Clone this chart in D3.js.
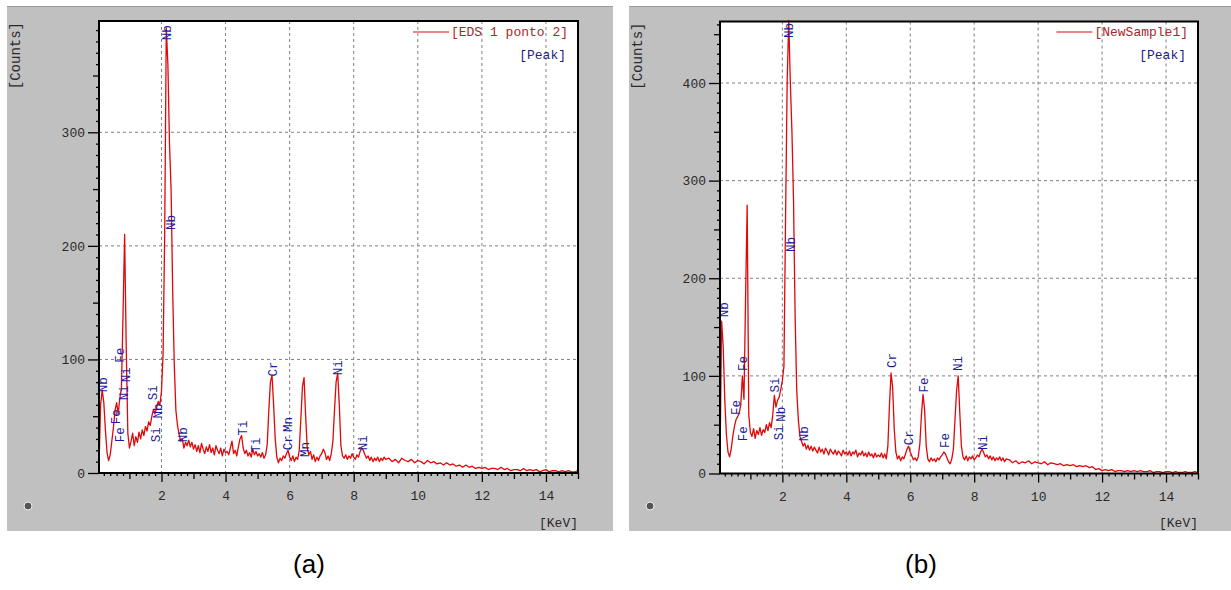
<!DOCTYPE html>
<html>
<head>
<meta charset="utf-8">
<script src="https://cdnjs.cloudflare.com/ajax/libs/d3/7.8.5/d3.min.js"></script>
<style>
body { margin: 0; background: #fff; }
svg { display: block; }
</style>
</head>
<body>
<svg width="1231" height="590"></svg>
<script>
// energy channels (keV), shared by both spectra
var energy = [
    0.05, 0.10, 0.15, 0.20, 0.25, 0.30, 0.35, 0.40, 0.45, 0.50, 0.55, 0.60, 0.65, 0.70, 0.75, 0.80, 0.85, 0.90, 0.95, 1.00,
    1.05, 1.10, 1.15, 1.20, 1.25, 1.30, 1.35, 1.40, 1.45, 1.50, 1.55, 1.60, 1.65, 1.70, 1.75, 1.80, 1.85, 1.90, 1.95, 2.00,
    2.05, 2.10, 2.15, 2.20, 2.25, 2.30, 2.35, 2.40, 2.45, 2.50, 2.55, 2.60, 2.65, 2.70, 2.75, 2.80, 2.85, 2.90, 2.95, 3.00,
    3.05, 3.10, 3.15, 3.20, 3.25, 3.30, 3.35, 3.40, 3.45, 3.50, 3.55, 3.60, 3.65, 3.70, 3.75, 3.80, 3.85, 3.90, 3.95, 4.00,
    4.05, 4.10, 4.15, 4.20, 4.25, 4.30, 4.35, 4.40, 4.45, 4.50, 4.55, 4.60, 4.65, 4.70, 4.75, 4.80, 4.85, 4.90, 4.95, 5.00,
    5.05, 5.10, 5.15, 5.20, 5.25, 5.30, 5.35, 5.40, 5.45, 5.50, 5.55, 5.60, 5.65, 5.70, 5.75, 5.80, 5.85, 5.90, 5.95, 6.00,
    6.05, 6.10, 6.15, 6.20, 6.25, 6.30, 6.35, 6.40, 6.45, 6.50, 6.55, 6.60, 6.65, 6.70, 6.75, 6.80, 6.85, 6.90, 6.95, 7.00,
    7.05, 7.10, 7.15, 7.20, 7.25, 7.30, 7.35, 7.40, 7.45, 7.50, 7.55, 7.60, 7.65, 7.70, 7.75, 7.80, 7.85, 7.90, 7.95, 8.00,
    8.05, 8.10, 8.15, 8.20, 8.25, 8.30, 8.35, 8.40, 8.45, 8.50, 8.55, 8.60, 8.65, 8.70, 8.75, 8.80, 8.85, 8.90, 8.95, 9.00,
    9.1, 9.2, 9.3, 9.4, 9.5, 9.6, 9.7, 9.8, 9.9, 10.0, 10.1, 10.2, 10.3, 10.4, 10.5, 10.6, 10.7, 10.8, 10.9, 11.0,
    11.1, 11.2, 11.3, 11.4, 11.5, 11.6, 11.7, 11.8, 11.9, 12.0, 12.1, 12.2, 12.3, 12.4, 12.5, 12.6, 12.7, 12.8, 12.9, 13.0,
    13.1, 13.2, 13.3, 13.4, 13.5, 13.6, 13.7, 13.8, 13.9, 14.0, 14.1, 14.2, 14.3, 14.4, 14.5, 14.6, 14.7, 14.8, 14.9, 15.0
    ];

// (a) EDS 1 ponto 2
var countsA = [
    5, 60, 73, 62, 38, 18, 11, 16, 28, 40, 55, 62, 52, 66, 75, 140, 210, 110, 35, 22,
    28, 35, 24, 32, 27, 36, 30, 38, 33, 41, 37, 45, 42, 50, 56, 52, 58, 63, 60, 72,
    105, 210, 392, 360, 290, 250, 160, 95, 55, 42, 34, 28, 30, 22, 27, 24, 29, 23, 27, 21,
    25, 19, 24, 18, 26, 21, 17, 23, 19, 25, 18, 22, 16, 24, 20, 17, 22, 15, 21, 18,
    19, 16, 22, 28, 17, 20, 15, 23, 30, 33, 22, 17, 20, 15, 18, 14, 21, 16, 19, 15,
    17, 14, 18, 13, 16, 25, 55, 80, 86, 60, 30, 14, 9, 13, 11, 15, 13, 17, 20, 14,
    11, 15, 10, 14, 12, 20, 48, 76, 84, 50, 22, 16, 19, 12, 16, 10, 14, 11, 15, 17,
    21, 18, 12, 15, 11, 17, 28, 55, 80, 88, 60, 24, 15, 13, 16, 12, 15, 13, 17, 14,
    12, 16, 14, 19, 22, 20, 16, 13, 15, 11, 14, 10, 13, 11, 14, 10, 13, 11, 14, 12,
    13, 10, 12, 9, 13, 11, 10, 12, 9, 11, 10, 8, 11, 9, 10, 8, 9, 7, 9, 7,
    8, 6, 7, 5, 7, 5, 6, 4, 5, 4, 5, 3, 4, 4, 3, 5, 3, 4, 2, 3,
    3, 2, 4, 2, 3, 2, 3, 1, 2, 3, 1, 2, 2, 1, 2, 1, 2, 1, 1, 2
    ];

// (b) NewSample1
var countsB = [
    10, 156, 130, 75, 40, 22, 17, 25, 38, 48, 55, 58, 62, 70, 100, 76, 180, 275, 60, 42,
    38, 46, 36, 44, 40, 47, 39, 45, 42, 50, 44, 52, 47, 60, 80, 68, 75, 78, 86, 95,
    110, 260, 400, 464, 400, 350, 280, 160, 85, 55, 38, 33, 28, 31, 25, 29, 24, 28, 23, 27,
    24, 21, 27, 22, 25, 20, 26, 23, 19, 25, 22, 20, 24, 19, 23, 21, 18, 24, 20, 22,
    19, 23, 18, 22, 20, 24, 17, 21, 19, 23, 18, 21, 17, 22, 18, 20, 16, 21, 17, 19,
    17, 21, 16, 20, 15, 28, 70, 103, 88, 45, 22, 15, 18, 13, 17, 15, 20, 25, 28, 22,
    18, 14, 16, 13, 17, 30, 60, 81, 65, 28, 15, 12, 16, 13, 15, 12, 16, 14, 17, 19,
    22, 20, 16, 12, 10, 15, 25, 55, 85, 100, 62, 28, 17, 14, 18, 13, 17, 15, 18, 14,
    16, 19, 17, 22, 25, 21, 17, 19, 15, 18, 14, 17, 13, 16, 14, 17, 13, 16, 12, 15,
    14, 11, 13, 10, 12, 11, 13, 10, 12, 11, 10, 12, 9, 11, 10, 9, 10, 8, 9, 8,
    9, 7, 8, 7, 8, 6, 7, 4, 5, 3, 4, 3, 4, 2, 3, 3, 2, 3, 2, 3,
    2, 3, 2, 2, 3, 1, 2, 2, 1, 2, 2, 1, 2, 1, 1, 2, 1, 1, 2, 1
    ];

var xTicks = [2, 4, 6, 8, 10, 12, 14];
var yTicksA = [0, 100, 200, 300];
var yTicksB = [0, 100, 200, 300, 400];

var legendA = "[EDS 1 ponto 2]";
var legendB = "[NewSample1]";

// peak labels: element, energy, counts at the foot of the label
var peaksA = [
    {el: "Nb", e: 0.18, c: 71},
    {el: "Fe", e: 0.57, c: 43},
    {el: "Fe", e: 0.70, c: 27},
    {el: "Ni", e: 0.83, c: 64},
    {el: "Ni", e: 0.89, c: 80},
    {el: "Fe", e: 0.71, c: 97},
    {el: "Si", e: 1.74, c: 64},
    {el: "Nb", e: 1.88, c: 48},
    {el: "Si", e: 1.83, c: 27},
    {el: "Nb", e: 2.16, c: 381},
    {el: "Nb", e: 2.29, c: 214},
    {el: "Nb", e: 2.66, c: 27},
    {el: "Ti", e: 4.55, c: 33},
    {el: "Ti", e: 4.95, c: 18},
    {el: "Cr", e: 5.49, c: 85},
    {el: "Cr", e: 5.94, c: 20},
    {el: "Mn", e: 5.96, c: 36},
    {el: "Mn", e: 6.46, c: 14},
    {el: "Ni", e: 7.52, c: 86},
    {el: "Ni", e: 8.28, c: 20}
    ];

var peaksB = [
    {el: "Nb", e: 0.18, c: 160},
    {el: "Fe", e: 0.78, c: 105},
    {el: "Fe", e: 0.55, c: 60},
    {el: "Fe", e: 0.77, c: 33},
    {el: "Si", e: 1.77, c: 83},
    {el: "Nb", e: 1.95, c: 53},
    {el: "Si", e: 1.90, c: 34},
    {el: "Nb", e: 2.19, c: 446},
    {el: "Nb", e: 2.26, c: 227},
    {el: "Nb", e: 2.66, c: 33},
    {el: "Cr", e: 5.42, c: 108},
    {el: "Cr", e: 5.97, c: 29},
    {el: "Fe", e: 6.43, c: 83},
    {el: "Fe", e: 7.09, c: 26},
    {el: "Ni", e: 7.50, c: 105},
    {el: "Ni", e: 8.27, c: 24}
    ];

var mono = "'Liberation Mono', 'DejaVu Sans Mono', monospace";
var svg = d3.select("svg");

function drawPanel(p) {
    var g = svg.append("g");

    // grey window background
    g.append("rect")
        .attr("x", p.bgX)
        .attr("y", 6)
        .attr("width", p.bgW)
        .attr("height", 525)
        .attr("fill", "#c0c0c0");
    g.append("line")
        .attr("x1", p.bgX).attr("x2", p.bgX + p.bgW)
        .attr("y1", 6.5).attr("y2", 6.5)
        .attr("stroke", "#9a9a9a");

    var x = d3.scaleLinear().domain([0.05, 15]).range([p.left, p.right]);
    var y = d3.scaleLinear().domain([0, p.yMax]).range([p.bottom, p.top]);

    g.append("rect")
        .attr("x", p.left)
        .attr("y", p.top)
        .attr("width", p.right - p.left)
        .attr("height", p.bottom - p.top)
        .attr("fill", "#fff");

    // dashed grid
    g.selectAll(".vgrid").data(xTicks).enter().append("line")
        .attr("x1", function(d) { return x(d); })
        .attr("x2", function(d) { return x(d); })
        .attr("y1", p.top)
        .attr("y2", p.bottom)
        .attr("stroke", "#808080")
        .attr("stroke-dasharray", "3,3");
    g.selectAll(".hgrid").data(p.yTicks.filter(function(d) { return d > 0; })).enter().append("line")
        .attr("x1", p.left)
        .attr("x2", p.right)
        .attr("y1", function(d) { return y(d); })
        .attr("y2", function(d) { return y(d); })
        .attr("stroke", "#808080")
        .attr("stroke-dasharray", "3,3");

    // spectrum
    var pts = energy.map(function(e, i) { return {e: e, c: p.counts[i]}; });
    var line = d3.line()
        .x(function(d) { return x(d.e); })
        .y(function(d) { return y(d.c); });
    g.append("path")
        .datum(pts)
        .attr("d", line)
        .attr("fill", "none")
        .attr("stroke", "#e00808")
        .attr("stroke-width", 1.3)
        .attr("stroke-linejoin", "round");

    // peak labels
    g.selectAll(".peak").data(p.peaks).enter().append("text")
        .attr("transform", function(d) {
            return "translate(" + x(d.e) + "," + y(d.c) + ") rotate(-90)";
        })
        .attr("dy", "0.33em")
        .attr("font-family", mono)
        .attr("font-size", "12.5px")
        .attr("fill", "#1c1c9a")
        .text(function(d) { return d.el; });

    // axes
    var minorY = d3.range(10, p.yMax, 10).filter(function(d) { return d % 50 !== 0; });
    var midY = d3.range(50, p.yMax, 100);
    var oddX = [1, 3, 5, 7, 9, 11, 13, 15];
    var minorX = d3.range(1, 75).map(function(i) { return i * 0.2; })
        .filter(function(d) { return Math.abs(d - Math.round(d)) > 0.01; });

    var axes = [
        {ax: d3.axisLeft(y).tickValues(minorY).tickSize(3).tickFormat(""), t: "translate(" + p.left + ",0)"},
        {ax: d3.axisLeft(y).tickValues(midY).tickSize(6).tickFormat(""), t: "translate(" + p.left + ",0)"},
        {ax: d3.axisLeft(y).tickValues(p.yTicks).tickSize(11).tickPadding(3), t: "translate(" + p.left + ",0)"},
        {ax: d3.axisBottom(x).tickValues(minorX).tickSize(3).tickFormat(""), t: "translate(0," + p.bottom + ")"},
        {ax: d3.axisBottom(x).tickValues(oddX).tickSize(6).tickFormat(""), t: "translate(0," + p.bottom + ")"},
        {ax: d3.axisBottom(x).tickValues(xTicks).tickSize(9).tickPadding(9), t: "translate(0," + p.bottom + ")"}
        ];
    axes.forEach(function(a) {
        var ag = g.append("g").attr("transform", a.t).call(a.ax);
        ag.select(".domain").remove();
        ag.selectAll("line").attr("stroke", "#000").attr("stroke-width", 1.3);
        ag.selectAll("text")
            .attr("font-family", mono)
            .attr("font-size", "13px")
            .attr("fill", "#2a2a2a");
    });

    // frame
    g.append("rect")
        .attr("x", p.left)
        .attr("y", p.top)
        .attr("width", p.right - p.left)
        .attr("height", p.bottom - p.top)
        .attr("fill", "none")
        .attr("stroke", "#000")
        .attr("stroke-width", 2);

    // axis titles
    g.append("text")
        .attr("transform", "translate(" + (p.bgX + 8) + "," + (p.top + 1) + ") rotate(-90)")
        .attr("text-anchor", "end")
        .attr("dy", "0.33em")
        .attr("font-family", mono)
        .attr("font-size", "14px")
        .attr("fill", "#2a2a2a")
        .text("[Counts]");
    g.append("text")
        .attr("x", p.right)
        .attr("y", 527)
        .attr("text-anchor", "end")
        .attr("font-family", mono)
        .attr("font-size", "13px")
        .attr("fill", "#2a2a2a")
        .text("[KeV]");

    // little status icon
    g.append("circle")
        .attr("cx", p.bgX + 21)
        .attr("cy", 506)
        .attr("r", 4)
        .attr("fill", "#555")
        .attr("stroke", "#f0f0f0")
        .attr("stroke-width", 1);

    // legend
    var lt = g.append("text")
        .attr("x", p.right - 10)
        .attr("y", 36)
        .attr("text-anchor", "end")
        .attr("font-family", mono)
        .attr("font-size", "13px")
        .attr("fill", "#a82828")
        .text(p.legend);
    var w = lt.node().getComputedTextLength();
    g.append("line")
        .attr("x1", p.right - 10 - w - 38)
        .attr("x2", p.right - 10 - w - 2)
        .attr("y1", 32)
        .attr("y2", 32)
        .attr("stroke", "#d01010")
        .attr("stroke-width", 1.2);
    g.append("text")
        .attr("x", p.right - 12)
        .attr("y", 59)
        .attr("text-anchor", "end")
        .attr("font-family", mono)
        .attr("font-size", "13px")
        .attr("fill", "#1c1c8a")
        .text("[Peak]");

    // caption
    svg.append("text")
        .attr("x", p.caption)
        .attr("y", 573)
        .attr("text-anchor", "middle")
        .attr("font-family", "'Liberation Sans', Arial, sans-serif")
        .attr("font-size", "26px")
        .attr("fill", "#000")
        .text(p.label);
}

drawPanel({bgX: 7, bgW: 606, left: 99, right: 578, top: 21, bottom: 473, yMax: 398,
    yTicks: yTicksA, counts: countsA, peaks: peaksA, legend: legendA, caption: 309, label: "(a)"});
drawPanel({bgX: 629, bgW: 602, left: 720, right: 1198, top: 21.5, bottom: 473.5, yMax: 463,
    yTicks: yTicksB, counts: countsB, peaks: peaksB, legend: legendB, caption: 921, label: "(b)"});
</script>
</body>
</html>
